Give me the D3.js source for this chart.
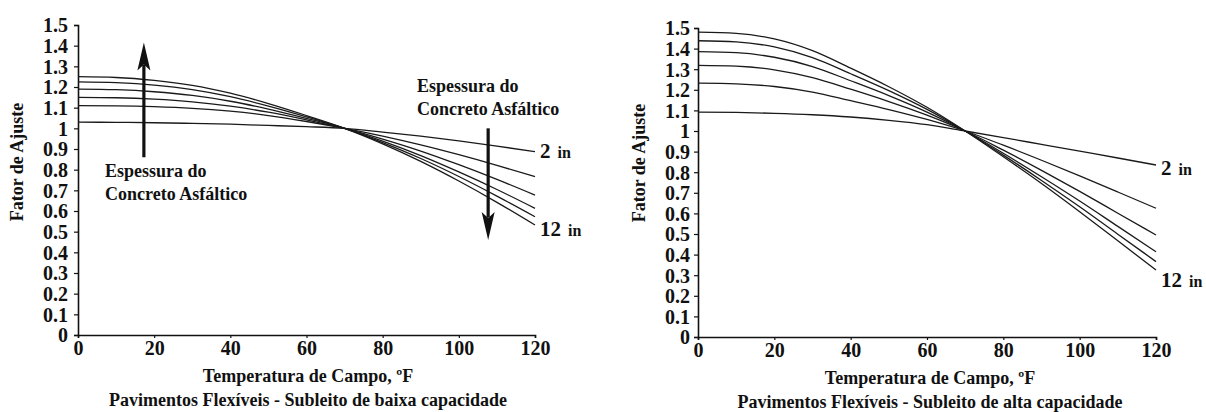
<!DOCTYPE html>
<html>
<head>
<meta charset="utf-8">
<script src="https://cdn.jsdelivr.net/npm/d3@7/dist/d3.min.js"></script>
<style>
  html, body { margin: 0; padding: 0; background: #fff; }
  svg { display: block; }
  text { font-family: "Liberation Serif", "Times New Roman", serif; font-weight: bold; fill: #111; }
</style>
</head>
<body>
<svg id="chart" width="1206" height="412"></svg>
<script>
// Field temperature (ºF) at which each curve is sampled
const temps = [0, 10, 20, 30, 40, 50, 60, 70, 80, 90, 100, 110, 120];
const xTicks = [0, 20, 40, 60, 80, 100, 120];
const yTicks = [0, 0.1, 0.2, 0.3, 0.4, 0.5, 0.6, 0.7, 0.8, 0.9, 1, 1.1, 1.2, 1.3, 1.4, 1.5];
const thicknessLabels = ["2", "12"];

// Adjustment factor – weak subgrade (asphalt thickness 2, 4, 6, 8, 10, 12 in)
const baixa2  = [1.03, 1.029, 1.027, 1.024, 1.02, 1.014, 1.008, 1.0, 0.982, 0.962, 0.939, 0.914, 0.887];
const baixa4  = [1.11, 1.109, 1.105, 1.097, 1.083, 1.062, 1.033, 1.0, 0.9625, 0.92, 0.8725, 0.821, 0.766];
const baixa6  = [1.15, 1.148, 1.141, 1.128, 1.107, 1.078, 1.041, 1.0, 0.948, 0.89, 0.824, 0.753, 0.677];
const baixa8  = [1.19, 1.187, 1.177, 1.159, 1.131, 1.093, 1.048, 1.0, 0.938, 0.868, 0.789, 0.704, 0.613];
const baixa10 = [1.225, 1.221, 1.209, 1.187, 1.153, 1.108, 1.056, 1.0, 0.931, 0.854, 0.767, 0.672, 0.572];
const baixa12 = [1.25, 1.246, 1.232, 1.208, 1.17, 1.12, 1.062, 1.0, 0.925, 0.84, 0.745, 0.642, 0.532];

// Adjustment factor – strong subgrade (asphalt thickness 2, 4, 6, 8, 10, 12 in)
const alta2  = [1.092, 1.09, 1.086, 1.079, 1.068, 1.052, 1.031, 1.0, 0.968, 0.935, 0.902, 0.869, 0.835];
const alta4  = [1.232, 1.229, 1.216, 1.189, 1.147, 1.104, 1.056, 1.0, 0.931, 0.858, 0.782, 0.704, 0.625];
const alta6  = [1.319, 1.315, 1.297, 1.259, 1.203, 1.143, 1.077, 1.0, 0.907, 0.809, 0.707, 0.601, 0.495];
const alta8  = [1.385, 1.38, 1.358, 1.313, 1.244, 1.172, 1.092, 1.0, 0.892, 0.778, 0.66, 0.537, 0.414];
const alta10 = [1.438, 1.433, 1.408, 1.356, 1.278, 1.196, 1.105, 1.0, 0.883, 0.76, 0.632, 0.499, 0.366];
const alta12 = [1.48, 1.474, 1.447, 1.39, 1.305, 1.215, 1.115, 1.0, 0.875, 0.745, 0.608, 0.467, 0.325];

const svg = d3.select("#chart");

function panel(opts) {
  const x = d3.scaleLinear().domain([0, 120]).range([opts.x0, opts.x1]);
  const y = d3.scaleLinear().domain([0, 1.5]).range([opts.y0, opts.y1]);
  const g = svg.append("g");

  // Axes
  const xAxis = g.append("g").attr("transform", `translate(0,${opts.y0})`)
    .call(d3.axisBottom(x).tickValues(xTicks).tickSize(3).tickPadding(3).tickFormat(d3.format("d")));
  const yAxis = g.append("g").attr("transform", `translate(${opts.x0},0)`)
    .call(d3.axisLeft(y).tickValues(yTicks).tickSize(4).tickPadding(opts.yPad)
      .tickFormat(d => d === 0 || d === 1 ? String(d) : d3.format(".1f")(d)));
  [xAxis, yAxis].forEach(a => {
    a.select(".domain").attr("stroke", "#111").attr("stroke-width", 1.6);
    a.selectAll(".tick line").attr("stroke", "#111").attr("stroke-width", 1.2);
    a.selectAll(".tick text").style("font-size", "20px").style("font-family", "'Liberation Serif', serif")
      .style("font-weight", "bold").attr("fill", "#111");
  });
  yAxis.selectAll(".tick text").attr("dy", "0.34em");

  // Curves
  const line = d3.line().x((d, i) => x(temps[i])).y(d => y(d)).curve(d3.curveMonotoneX);
  g.selectAll("path.curve").data(opts.series).join("path")
    .attr("class", "curve")
    .attr("d", line)
    .attr("fill", "none")
    .attr("stroke", "#1a1a1a")
    .attr("stroke-width", 1.3);

  // Thickness labels at the ends of the thinnest and thickest curves
  const first = opts.series[0], last = opts.series[opts.series.length - 1];
  [[first, thicknessLabels[0], opts.lab2dy], [last, thicknessLabels[1], opts.lab12dy]].forEach(([s, t, dy]) => {
    const tx = g.append("text")
      .attr("x", x(120) + 5)
      .attr("y", y(s[s.length - 1]) + dy);
    tx.append("tspan").style("font-size", "21px").text(t);
    tx.append("tspan").attr("dx", 7).style("font-size", "16px").text("in");
  });

  // Axis titles
  g.append("text")
    .attr("transform", `translate(${opts.yTitleX},${opts.yTitleY}) rotate(-90)`)
    .attr("text-anchor", "middle")
    .style("font-size", "18px")
    .text("Fator de Ajuste");
  g.append("text")
    .attr("x", opts.titleX).attr("y", opts.y0 + 47)
    .attr("text-anchor", "middle")
    .style("font-size", "18px")
    .text("Temperatura de Campo, ºF");
  g.append("text")
    .attr("x", opts.titleX).attr("y", opts.y0 + 71)
    .attr("text-anchor", "middle")
    .style("font-size", "18px")
    .text(opts.subtitle);

  return { g, x, y };
}

function arrow(g, x, y, t, vFrom, vTo) {
  const px = x(t), a = y(vFrom), b = y(vTo);
  const dir = b < a ? 1 : -1; // 1 = pointing up
  const headLen = 28, headW = 6.5;
  g.append("line")
    .attr("x1", px).attr("x2", px)
    .attr("y1", a).attr("y2", b + dir * headLen * 0.8)
    .attr("stroke", "#111").attr("stroke-width", 3.2);
  g.append("path")
    .attr("d", `M${px},${b} L${px - headW},${b + dir * headLen} L${px},${b + dir * headLen * 0.78} L${px + headW},${b + dir * headLen} Z`)
    .attr("fill", "#111");
}

// Left panel: weak subgrade
const left = panel({
  x0: 78, x1: 535, y0: 335, y1: 25, yPad: 6,
  series: [baixa2, baixa4, baixa6, baixa8, baixa10, baixa12],
  subtitle: "Pavimentos Flexíveis - Subleito de baixa capacidade",
  titleX: 308, yTitleX: 23, yTitleY: 162,
  lab2dy: 6, lab12dy: 11
});
arrow(left.g, left.x, left.y, 17.3, 0.86, 1.415);
arrow(left.g, left.x, left.y, 107.7, 1.0, 0.46);
[["Espessura do", 0], ["Concreto Asfáltico", 23]].forEach(([t, dy]) => {
  left.g.append("text").attr("x", 105).attr("y", 177 + dy).style("font-size", "18px").text(t);
  left.g.append("text").attr("x", 417).attr("y", 92 + dy).style("font-size", "18px").text(t);
});

// Right panel: strong subgrade
panel({
  x0: 698, x1: 1156, y0: 337, y1: 28, yPad: 4,
  series: [alta2, alta4, alta6, alta8, alta10, alta12],
  subtitle: "Pavimentos Flexíveis - Subleito de alta capacidade",
  titleX: 930, yTitleX: 645, yTitleY: 163,
  lab2dy: 10, lab12dy: 17
});
</script>
</body>
</html>
